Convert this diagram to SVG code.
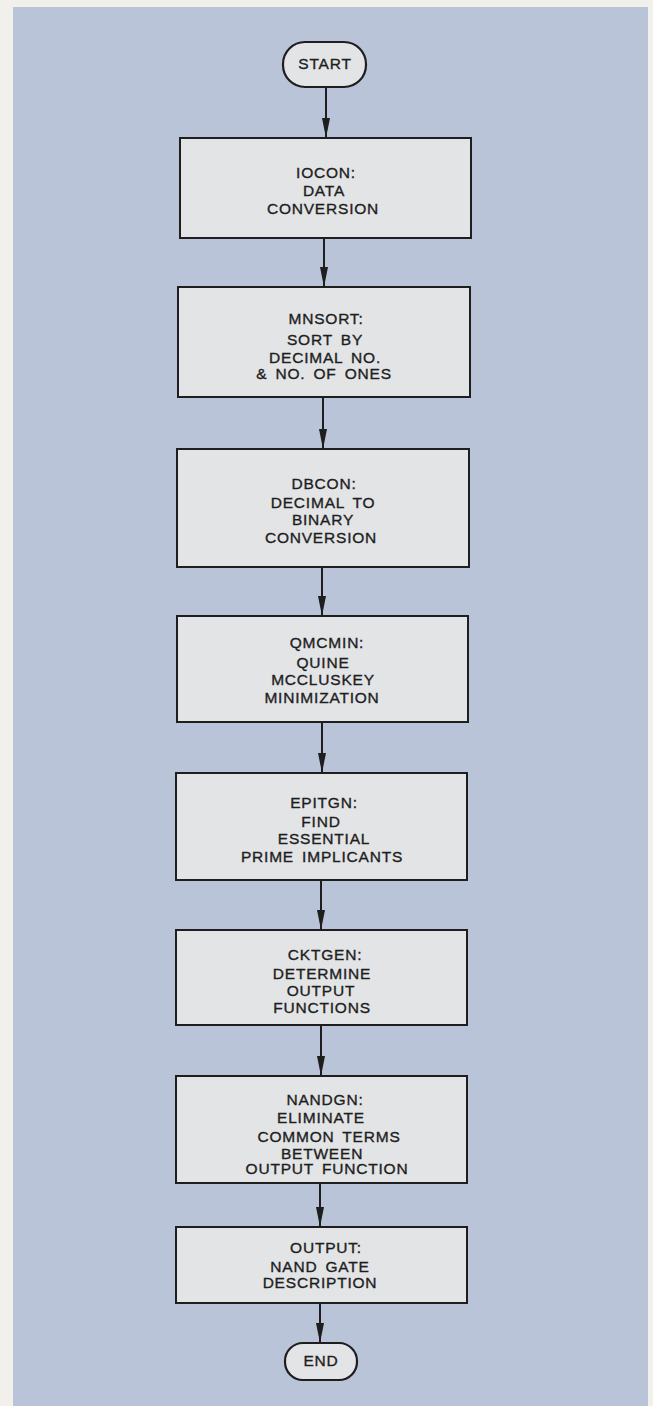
<svg xmlns="http://www.w3.org/2000/svg" width="653" height="1406" viewBox="0 0 653 1406">
<style>
.box{fill:#e3e4e6;stroke:#1e1e1e;stroke-width:2}
.term{fill:#e3e4e6;stroke:#1e1e1e;stroke-width:2.2}
.t{font-family:"Liberation Sans",Arial,sans-serif;font-size:15.5px;fill:#1e1e1e;stroke:#1e1e1e;stroke-width:0.35;text-anchor:middle;letter-spacing:0.8px;word-spacing:3px}
.c{stroke:#1e1e1e;stroke-width:2;fill:none;marker-end:url(#ah)}
</style>
<defs>
<marker id="ah" markerUnits="userSpaceOnUse" markerWidth="22" markerHeight="10" refX="20" refY="4" orient="auto" viewBox="0 0 22 8">
<path d="M0,0 L20,4 L0,8 Z" fill="#1e1e1e"/>
</marker>
</defs>
<rect x="0" y="0" width="653" height="1406" fill="#f2f0eb"/>
<rect x="13" y="7" width="635" height="1399" fill="#b9c4d8"/>
<g id="connectors">
<line class="c" x1="326" y1="87" x2="326" y2="138"/>
<line class="c" x1="324" y1="238" x2="324" y2="287"/>
<line class="c" x1="323" y1="397" x2="323" y2="449"/>
<line class="c" x1="322" y1="567" x2="322" y2="616"/>
<line class="c" x1="322" y1="722" x2="322" y2="773"/>
<line class="c" x1="321" y1="880" x2="321" y2="930"/>
<line class="c" x1="321" y1="1025" x2="321" y2="1076"/>
<line class="c" x1="320" y1="1183" x2="320" y2="1227"/>
<line class="c" x1="320" y1="1303" x2="320" y2="1343"/>
</g>
<g id="start">
<rect class="term" x="283" y="42" width="83" height="45" rx="22" ry="22"/>
<text class="t" x="325" y="69">START</text>
</g>
<g id="iocon">
<rect class="box" x="180" y="138" width="291" height="100"/>
<text class="t" x="326" y="178">IOCON:</text>
<text class="t" x="324" y="196">DATA</text>
<text class="t" x="323" y="214">CONVERSION</text>
</g>
<g id="mnsort">
<rect class="box" x="178" y="287" width="292" height="110"/>
<text class="t" x="326" y="324">MNSORT:</text>
<text class="t" x="325" y="345">SORT BY</text>
<text class="t" x="325" y="363">DECIMAL NO.</text>
<text class="t" x="324" y="379">&amp; NO. OF ONES</text>
</g>
<g id="dbcon">
<rect class="box" x="177" y="449" width="292" height="118"/>
<text class="t" x="324" y="489">DBCON:</text>
<text class="t" x="323" y="508">DECIMAL TO</text>
<text class="t" x="323" y="525">BINARY</text>
<text class="t" x="321" y="543">CONVERSION</text>
</g>
<g id="qmcmin">
<rect class="box" x="177" y="616" width="291" height="106"/>
<text class="t" x="327" y="648">QMCMIN:</text>
<text class="t" x="323" y="668">QUINE</text>
<text class="t" x="323" y="685">MCCLUSKEY</text>
<text class="t" x="322" y="703">MINIMIZATION</text>
</g>
<g id="epitgn">
<rect class="box" x="176" y="773" width="291" height="107"/>
<text class="t" x="324" y="808">EPITGN:</text>
<text class="t" x="321" y="827">FIND</text>
<text class="t" x="324" y="844">ESSENTIAL</text>
<text class="t" x="322" y="862">PRIME IMPLICANTS</text>
</g>
<g id="cktgen">
<rect class="box" x="176" y="930" width="291" height="95"/>
<text class="t" x="325" y="960">CKTGEN:</text>
<text class="t" x="322" y="979">DETERMINE</text>
<text class="t" x="321" y="996">OUTPUT</text>
<text class="t" x="322" y="1013">FUNCTIONS</text>
</g>
<g id="nandgn">
<rect class="box" x="176" y="1076" width="291" height="107"/>
<text class="t" x="325" y="1105">NANDGN:</text>
<text class="t" x="321" y="1123">ELIMINATE</text>
<text class="t" x="329" y="1142">COMMON TERMS</text>
<text class="t" x="322" y="1159">BETWEEN</text>
<text class="t" x="327" y="1174">OUTPUT FUNCTION</text>
</g>
<g id="output">
<rect class="box" x="176" y="1227" width="291" height="76"/>
<text class="t" x="326" y="1253">OUTPUT:</text>
<text class="t" x="320" y="1272">NAND GATE</text>
<text class="t" x="320" y="1288">DESCRIPTION</text>
</g>
<g id="end">
<rect class="term" x="285" y="1343" width="72" height="37" rx="18" ry="18"/>
<text class="t" x="321" y="1366">END</text>
</g>
</svg>
